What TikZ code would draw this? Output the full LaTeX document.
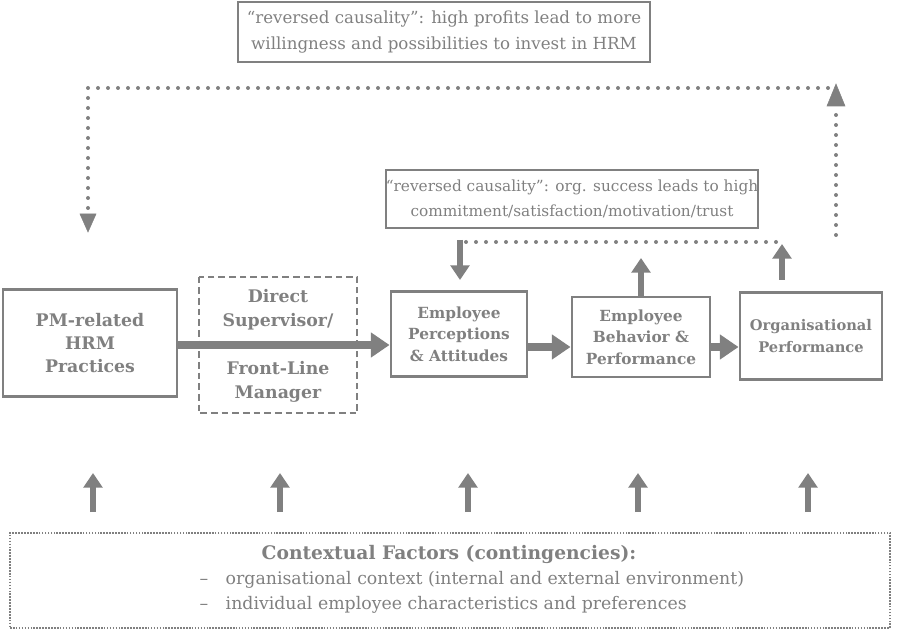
\documentclass[tikz,border=0pt]{standalone}
\usepackage{fontspec}
\setmainfont{DejaVu Serif}
\usetikzlibrary{arrows.meta}
\definecolor{g}{HTML}{808080}
\begin{document}
\begin{tikzpicture}[x=0.75pt,y=-0.75pt,
  box/.style={draw=g,line width=2.2pt,align=center,text=g,font=\bfseries\fontsize{13}{17}\selectfont,inner sep=0pt},
  note/.style={draw=g,line width=1.5pt,align=center,text=g,font=\fontsize{12.5}{19}\selectfont,inner sep=0pt},
  big/.style={draw=g,line width=6pt,-{Triangle[width=18pt,length=14pt]}},
  small/.style={draw=g,line width=5pt,-{Triangle[width=14pt,length=11pt]}},
  dots/.style={draw=g,line width=3pt,line cap=round,dash pattern=on 0pt off 7.5pt}]
\useasboundingbox (0,0) rectangle (897,631);
\node[note,minimum width=412*0.75pt,minimum height=60*0.75pt] (top) at (444,32) {``reversed causality'': high profits lead to more\\willingness and possibilities to invest in HRM};
\node[note,minimum width=360*0.75pt,minimum height=58*0.75pt,font=\fontsize{11.5}{19}\selectfont] (mid) at (572,199) {``reversed causality'': org. success leads to high\\commitment/satisfaction/motivation/trust};
\node[box,minimum width=174*0.75pt,minimum height=107*0.75pt] (pm) at (90,343) {PM-related\\HRM\\Practices};
\node[box,draw=none,minimum width=156*0.75pt,minimum height=134*0.75pt] (sup) at (278,345) {};
\draw[g,line width=1.5pt,dash pattern=on 5pt off 3pt] (sup.north west) rectangle (sup.south east);
\node[text=g,font=\bfseries\fontsize{13}{18}\selectfont,align=center] (sup1) at (278,310) {Direct\\Supervisor/};
\node[text=g,font=\bfseries\fontsize{13}{18}\selectfont,align=center] (sup2) at (278,382) {Front-Line\\Manager};
\node[box,minimum width=136*0.75pt,minimum height=85*0.75pt,font=\bfseries\fontsize{11.5}{16}\selectfont] (ep) at (459,334) {Employee\\Perceptions\\\& Attitudes};
\node[box,minimum width=138*0.75pt,minimum height=80*0.75pt,font=\bfseries\fontsize{11.5}{16}\selectfont] (eb) at (641,337) {Employee\\Behavior \&\\Performance};
\node[box,minimum width=142*0.75pt,minimum height=87*0.75pt,font=\bfseries\fontsize{11}{16}\selectfont] (op) at (811,336) {Organisational\\Performance};
\draw[big] (pm.east|-0,345) -- (ep.west|-0,345);
\draw[big] (ep.east|-0,347) -- (eb.west|-0,347);
\draw[big] (eb.east|-0,347) -- (op.west|-0,347);
% loops
\coordinate (t1) at (836,235);
\coordinate (t3) at (88,88);
\coordinate (t4) at (88,215);
\draw[dots] (t1) -- (836,110);
\draw[g,fill=g] (836,84) -- (845,106) -- (827,106) -- cycle;
\draw[dots] (828,88) -- (t3) -- (t4);
\draw[g,fill=g] (88,232) -- (80,214) -- (96,214) -- cycle;
\coordinate (m1) at (466,242);
\coordinate (m2) at (782,242);
\draw[dots] (m1) -- (m2);
\draw[small] (460,240) -- (460,280);
\draw[small] (641,297) -- (641,258);
\draw[small] (782,280) -- (782,244);
% bottom
\node[draw=g,line width=1.5pt,dash pattern=on 1.2pt off 1pt,minimum width=880*0.75pt,minimum height=95*0.75pt,inner sep=0pt] (ctx) at (450,580.5) {};
\node[text=g,font=\bfseries\fontsize{14}{16}\selectfont] (ct) at (449,554) {Contextual Factors (contingencies):};
\node[text=g,font=\fontsize{13}{16}\selectfont,anchor=west] (c1) at (195,580) {–\hspace{1em}organisational context (internal and external environment)};
\node[text=g,font=\fontsize{13}{16}\selectfont,anchor=west] (c2) at (195,605) {–\hspace{1em}individual employee characteristics and preferences};
\foreach \x in {93,280,468,638,808}{\draw[small] (\x,512) -- (\x,473);}
\end{tikzpicture}
\end{document}
